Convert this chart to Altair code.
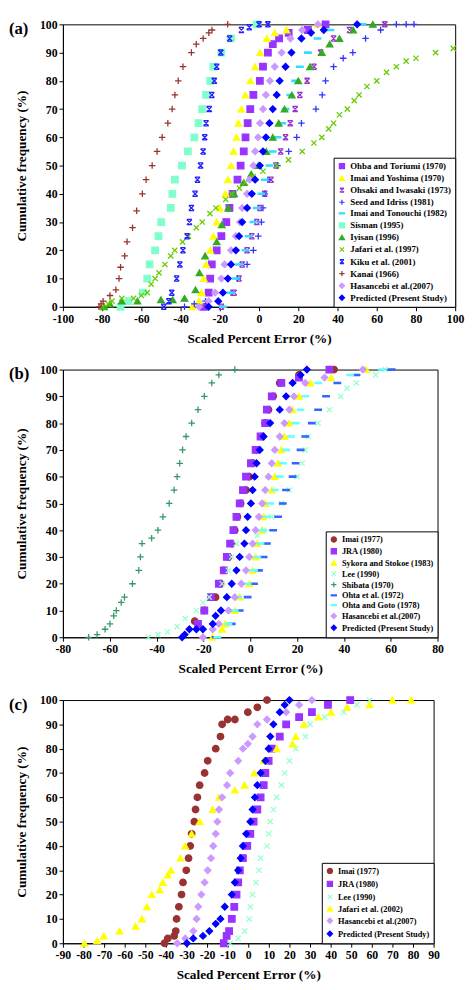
import altair as alt
import pandas as pd

FONT = "Liberation Serif"

# ---------------- shapes ----------------
SQ = "square"
TRI = "triangle-up"
DIA = "diamond"
CIR = "circle"
PLUS = "M-1,0H1M0,-1V1"
XX = "M-0.8,-0.8L0.8,0.8M-0.8,0.8L0.8,-0.8"
HOUR = "M-0.8,-0.8L0.8,0.8M-0.8,0.8L0.8,-0.8M-0.8,-0.8H0.8M-0.8,0.8H0.8"
DASH = "M-1,-0.2H1V0.2H-1Z"

# ---------------- panel (a) ----------------
a_names = ["Ohba and Toriumi (1970)", "Imai and Yoshima (1970)", "Ohsaki and Iwasaki (1973)",
           "Seed and Idriss (1981)", "Imai and Tonouchi (1982)", "Sisman (1995)", "Iyisan (1996)",
           "Jafari et al. (1997)", "Kiku et al. (2001)", "Kanai (1966)", "Hasancebi et al.(2007)",
           "Predicted (Present Study)"]
a_colors = ["#9933FF", "#FFFF00", "#9933CC", "#3333FF", "#33DDFF", "#80FFCC", "#33AA22",
            "#66CC00", "#2222FF", "#993333", "#CC99FF", "#0000FF"]
a_shapes = [SQ, TRI, HOUR, PLUS, DASH, SQ, TRI, XX, HOUR, PLUS, DIA, DIA]

ohba_y = [0, 5, 10, 15, 20, 25, 30, 35, 40, 45, 50, 55, 60, 65, 70, 75, 80, 85, 90, 93, 95, 97, 98, 100]
ohba_x = [-28.2, -25.7, -24.9, -24.1, -21.6, -19.2, -16.7, -15.1, -13.5, -11, -9.4, -7.8, -6.9, -5.8,
          -4.5, -2.9, 0.4, 2, 4.5, 7, 10.2, 15.1, 24.9, 33.9]
yosh_y = [0, 2, 5, 10, 15, 20, 25, 30, 35, 40, 45, 50, 55, 60, 65, 70, 75, 80, 85, 90, 95, 97, 98, 100]
yosh_x = [-33.9, -30.6, -29.3, -28.2, -27, -24.9, -23.3, -21.6, -20, -17.2, -15.9, -14.3, -13, -11.5,
          -10.5, -9, -7, -4.4, -2, 0.5, 4, 8, 14, 30]
ohsa_y = [0, 5, 10, 15, 20, 25, 30, 35, 40, 45, 50, 55, 60, 65, 70, 75, 80, 85, 90, 95, 98, 100]
ohsa_x = [-19.2, -12.7, -10.2, -8.6, -6.1, -3.7, -1.2, 0.4, 2.9, 6.1, 8.6, 11, 13.5, 15.9, 18.4, 20.8,
          24.5, 28, 31.4, 38, 46.1, 64.1]
seed_y = [0, 1, 2, 5, 10, 15, 20, 25, 30, 35, 40, 45, 50, 55, 60, 65, 70, 75, 80, 85, 88, 90, 95, 98,
          100, 100, 100]
seed_x = [-38, -33, -27.3, -14.3, -11, -6.1, -2.9, -0.4, 1.2, 2, 2.9, 4.5, 9.4, 15.1, 19.2, 21.6, 29,
          32.2, 33.9, 38, 42.9, 47.8, 54.3, 62, 70, 75, 79]
tono_y = [0, 5, 10, 15, 20, 25, 30, 35, 40, 45, 50, 55, 60, 65, 70, 75, 80, 85, 90, 95, 98, 100]
tono_x = [-18.4, -14.3, -11.8, -10.2, -6.9, -5.3, -2.9, -1.2, 1.2, 2.9, 5.3, 7, 9.4, 11.8, 13.5, 15.9,
          18.4, 20.8, 24.9, 29.8, 36.3, 52.7]
sism_y = [0, 2, 5, 10, 15, 20, 25, 30, 35, 40, 45, 50, 55, 60, 65, 70, 75, 80, 85, 90, 95, 100]
sism_x = [-70.6, -66.5, -59.2, -57, -55.8, -53, -51.3, -49.9, -45, -44.2, -42.9, -39.3, -36.3, -33,
          -30.9, -29, -27, -24.9, -23.3, -19.2, -14.3, -1.2]
iyis_y = [0, 1, 2, 2, 2.5, 2.5, 3, 6, 12, 18, 23, 29, 35, 40, 44, 47, 50, 55, 60, 65, 70, 75, 80, 85,
          90, 93, 95, 98, 100]
iyis_x = [-79, -76, -70, -62, -50, -44, -38, -32.4, -30.4, -27.5, -21.6, -19, -15.7, -12.7, -7.8, -4,
          -0.4, 3.7, 7, 10, 13, 16.7, 20, 26, 32, 36, 41, 48, 58]
jaf97_y = [0, 1, 2, 3, 3, 4, 5, 8, 10, 12, 15, 18, 20, 23, 25, 28, 30, 33, 35, 38, 40, 42, 44, 46, 48,
           50, 52, 55, 58, 60, 63, 65, 68, 70, 73, 75, 78, 80, 83, 85, 87, 88, 90, 91.5]
jaf97_x = [-80, -77, -75, -70, -64, -60, -57, -55, -53, -51, -48, -45, -43, -39, -36, -32, -29, -25,
           -22, -17, -14, -10, -7, -3, 2, 9, 15, 22, 28, 32, 35.5, 38, 41, 45, 48.5, 51, 55, 60, 65,
           70, 75, 80, 90, 99]
kiku_y = [0, 2, 5, 10, 15, 20, 25, 30, 35, 40, 45, 50, 55, 60, 65, 70, 75, 80, 85, 90, 95, 98, 99, 100,
          100]
kiku_x = [-48.6, -46, -44.5, -42, -40.4, -38.8, -36.7, -35.5, -34.5, -32.6, -31.4, -29.8, -28.5, -27.7,
          -27, -25.4, -24.1, -22.8, -21.6, -19.5, -15, -9, -5, 0, 4.5]
kana_y = [0, 1, 2, 4, 6, 10, 14, 18, 23, 28, 34, 40, 45, 50, 55, 60, 65, 70, 75, 80, 85, 90, 93, 95,
          97, 98, 100]
kana_x = [-81.6, -80.5, -79.5, -76, -73, -71.4, -70.6, -68.5, -67.3, -64.5, -62.4, -59.5, -57.6, -54.5,
          -52, -49.4, -46.5, -44.3, -42.9, -41.2, -38.8, -34.5, -32, -28.5, -25.6, -24, -16]
hasa_y = [0, 2, 5, 10, 15, 20, 25, 30, 35, 40, 45, 50, 55, 60, 65, 70, 75, 80, 85, 90, 95, 98, 100]
hasa_x = [-30.6, -25.7, -22.4, -19.2, -17.6, -14.3, -11.8, -9.7, -8.6, -6.1, -4.8, -2.9, -2, -0.5, 0.5,
          2, 3.5, 5.5, 8, 11.5, 16, 22, 30]
preda_y = [0, 2, 5, 10, 15, 20, 25, 30, 35, 40, 45, 50, 55, 60, 65, 70, 75, 80, 85, 90, 95, 97, 98, 100]
preda_x = [-25.7, -20.8, -18.4, -15.9, -14.3, -11.8, -10.2, -8.6, -6.1, -3.7, -2, 0.4, 2, 3.5, 5.3, 7,
           9, 10.5, 13.5, 16.5, 21.6, 26.5, 33, 50]

a_series = [(ohba_x, ohba_y), (yosh_x, yosh_y), (ohsa_x, ohsa_y), (seed_x, seed_y), (tono_x, tono_y),
            (sism_x, sism_y), (iyis_x, iyis_y), (jaf97_x, jaf97_y), (kiku_x, kiku_y), (kana_x, kana_y),
            (hasa_x, hasa_y), (preda_x, preda_y)]

# ---------------- panel (b) ----------------
b_names = ["Imai (1977)", "JRA (1980)", "Sykora and Stokoe (1983)", "Lee (1990)", "Shibata (1970)",
           "Ohta et al. (1972)", "Ohta and Goto (1978)", "Hasancebi et al.(2007)",
           "Predicted (Present Study)"]
b_colors = ["#993333", "#9933FF", "#FFFF00", "#99FFCC", "#339966", "#3366FF", "#66FFFF", "#CC99FF",
            "#0000FF"]
b_shapes = [CIR, SQ, TRI, XX, PLUS, DASH, DASH, DIA, DIA]

imaib_y = [6, 10, 15, 20, 25, 30, 35, 40, 45, 50, 55, 60, 65, 70, 75, 80, 85, 90, 95, 98, 100]
imaib_x = [-23.7, -19.6, -14.8, -12.7, -11.3, -9.3, -7.9, -6.6, -5.5, -4.1, -1.8, -0.4, 1, 2.7, 5.1,
           6.4, 7.8, 9.8, 12.6, 20.8, 35.8]
jrab_y = [5, 10, 15, 20, 25, 30, 35, 40, 45, 50, 55, 60, 65, 70, 75, 80, 85, 90, 95, 97, 100]
jrab_x = [-22.3, -19.6, -16.8, -13.4, -11.3, -10, -8.6, -7.2, -5.9, -4.5, -3.1, -1.8, 0.3, 2.3, 4.4,
          6.4, 7.1, 9.2, 13.3, 20.8, 33.8]
syko_y = [0, 3, 5, 10, 15, 20, 25, 30, 35, 40, 45, 50, 55, 60, 65, 70, 75, 80, 85, 90, 95, 97, 100]
syko_x = [-16.1, -12, -10.7, -6.6, -4.5, -0.4, 1, 2.3, 3, 5.1, 5.7, 6.4, 9.2, 10.5, 11.9, 13.3, 14.6,
          16.7, 18, 20.8, 25.6, 34.5, 49.5]
leeb_y = [0, 1, 2, 4, 7, 10, 13, 15, 20, 25, 30, 35, 38, 40, 45, 50, 55, 60, 65, 70, 75, 80, 85, 90,
          93, 95, 98, 100]
leeb_x = [-43.5, -39.4, -35.3, -31.2, -27.8, -23, -20.2, -17.5, -12, -9.3, -7.9, -5.9, 3, 5.7, 9.2,
          13.3, 16.7, 20.1, 22.2, 23.5, 24.9, 29, 33.8, 38.6, 41.3, 45.4, 53.6, 57.7]
shib_y = [0, 1, 3, 5, 8, 10, 13, 15, 20, 25, 30, 35, 37, 40, 45, 50, 55, 60, 65, 70, 75, 80, 85, 90,
          95, 98, 100]
shib_x = [-69, -65.4, -62, -59.9, -58.3, -57.2, -55.1, -53.7, -50.3, -47.6, -46.9, -46.2, -42.1, -39.4,
          -37.3, -34.6, -32.5, -31.2, -30.1, -28.9, -27.4, -25, -22.3, -19.6, -16.4, -13.4, -6.6]
ohta_y = [0, 5, 10, 15, 20, 25, 30, 35, 40, 45, 50, 55, 60, 65, 70, 75, 80, 85, 90, 95, 98, 100]
ohta_x = [-14.8, -7.9, -4.5, -1.1, 1.6, 3.7, 5.7, 7.1, 9.8, 11.9, 13.9, 15.3, 18.1, 19.4, 21.5, 23.5,
          26.3, 29, 32.4, 37.2, 45.4, 60.4]
goto_y = [0, 5, 10, 15, 20, 25, 30, 35, 40, 45, 50, 55, 60, 65, 70, 75, 80, 85, 90, 95, 98, 100]
goto_x = [-14, -9.3, -6.6, -5.2, -1.1, 1.6, 3, 4.4, 5.7, 7.1, 8.5, 10.5, 12.6, 14, 15.3, 17.4, 19.4,
          21.5, 23.5, 29, 42.7, 56.3]
hasb_y = [0, 3, 5, 10, 15, 20, 25, 30, 35, 40, 45, 50, 55, 60, 65, 70, 75, 80, 85, 90, 95, 97, 100]
hasb_x = [-20.2, -16, -13.4, -9.3, -6.6, -3.8, -1.8, -0.4, 1, 2.3, 3.7, 5.1, 6.4, 7.8, 9.2, 10.5, 12.6,
          14.6, 16.7, 18.7, 23.5, 31.7, 48.1]
predb_y = [0, 1, 3, 3, 3, 5, 8, 10, 15, 20, 25, 30, 35, 40, 45, 50, 55, 60, 65, 70, 75, 80, 85, 90,
           95, 98, 100]
predb_x = [-29.1, -28, -26, -23, -20.2, -16, -14.8, -12.5, -10, -7.9, -5.9, -4.5, -2.5, -1.8, -1.1,
           0.3, 1, 1.9, 2.7, 4.1, 5.7, 8.5, 12.6, 15.3, 18.1, 21.5, 24.2]

b_series = [(imaib_x, imaib_y), (jrab_x, jrab_y), (syko_x, syko_y), (leeb_x, leeb_y), (shib_x, shib_y),
            (ohta_x, ohta_y), (goto_x, goto_y), (hasb_x, hasb_y), (predb_x, predb_y)]

# ---------------- panel (c) ----------------
c_names = ["Imai (1977)", "JRA (1980)", "Lee (1990)", "Jafari et al. (2002)", "Hasancebi et al.(2007)",
           "Predicted (Present Study)"]
c_colors = ["#993333", "#9933FF", "#99FFCC", "#FFFF00", "#CC99FF", "#0000FF"]
c_shapes = [CIR, SQ, XX, TRI, DIA, DIA]

imaic_y = [0, 2, 3, 5, 10, 15, 20, 25, 30, 35, 40, 45, 50, 55, 60, 65, 70, 75, 80, 85, 90, 92, 92, 95,
           97, 100]
imaic_x = [-40.7, -39.1, -36, -35.2, -34.8, -33.7, -32.4, -31.7, -30.1, -29, -28.2, -27.5, -26.2,
           -25.6, -24.7, -23.6, -21.2, -19.7, -15.8, -13.5, -12.7, -10, -6.5, -0.2, 4.4, 9.1]
jrac_y = [0, 3, 5, 10, 15, 20, 25, 30, 35, 40, 45, 50, 55, 60, 65, 70, 75, 80, 85, 90, 93, 95, 98, 100]
jrac_x = [-11.9, -10.5, -9.3, -8, -6.8, -5.7, -4.9, -4.1, -2.6, -0.5, 1, 2.6, 4.4, 6, 7.5, 8.3, 9.9,
          11.4, 15.3, 18.4, 24.7, 30.9, 38.7, 49.5]
leec_y = [0, 2, 5, 10, 15, 20, 25, 30, 35, 40, 45, 50, 55, 60, 65, 70, 75, 80, 85, 90, 93, 95, 98, 100]
leec_x = [-8.8, -4.9, -1.8, 0.5, 1, 2.1, 3.7, 5.2, 6, 9.1, 9.9, 10.7, 12.2, 13.8, 16.1, 17.7, 20, 23.1,
          27.8, 30.1, 37.1, 46.4, 52.7, 58.9]
jafc_y = [0, 1, 3, 5, 7, 10, 15, 20, 22, 25, 28, 30, 35, 40, 45, 50, 55, 60, 63, 65, 70, 75, 80, 82, 85,
          90, 93, 95, 97, 98, 100, 100]
jafc_x = [-79.6, -73.4, -70.2, -62.5, -54.7, -51.6, -49.2, -46.9, -43, -41.5, -39.1, -37.6, -32.9,
          -30.6, -27.5, -23.6, -17.3, -14.2, -6.5, -1.8, 2.9, 7.5, 13.8, 21.5, 23.1, 27, 34, 40.2, 48,
          58.9, 70, 79.1]
hasc_y = [0, 2, 5, 10, 15, 20, 25, 30, 35, 40, 45, 50, 55, 60, 65, 70, 75, 80, 82, 85, 90, 92, 95, 98,
          100]
hasc_x = [-34.5, -30.6, -26.7, -25.1, -24.3, -22.8, -21.2, -19.7, -18.1, -17, -15.8, -15, -14.2, -12.7,
          -10.3, -8.8, -4.9, -2.6, -0.2, 2.1, 4.4, 9.1, 18.4, 24.7, 30.9]
predc_y = [0, 2, 3, 5, 8, 10, 15, 20, 25, 30, 35, 40, 45, 50, 55, 60, 65, 70, 75, 80, 85, 90, 95, 98,
           100]
predc_x = [-29.8, -26.7, -22, -18.9, -15.8, -13.5, -11.4, -8, -6.5, -4.9, -3.7, -2.6, -1, 1, 2.1, 3.2,
           4.4, 6, 8.3, 9.9, 10.7, 12.2, 15.3, 17.7, 20]

c_series = [(imaic_x, imaic_y), (jrac_x, jrac_y), (leec_x, leec_y), (jafc_x, jafc_y), (hasc_x, hasc_y),
            (predc_x, predc_y)]


def frame(names, series):
    rows = []
    for name, (xs, ys) in zip(names, series):
        for x, y in zip(xs, ys):
            rows.append({"series": name, "x": x, "y": y})
    return pd.DataFrame(rows)


def panel(tag, names, colors, shapes, series, xmin, xmax, xstep, w, h, leg_font, leg_row):
    df = frame(names, series)
    leg = alt.Legend(title=None, orient="bottom-right", offset=0, padding=4,
                     strokeColor="black", fillColor="white", labelFont=FONT,
                     labelFontWeight="bold", labelFontSize=leg_font, labelColor="black",
                     symbolSize=28, symbolStrokeWidth=1.2, rowPadding=leg_row, labelOffset=4,
                     labelLimit=300)
    xvals = list(range(xmin, xmax + 1, xstep))
    pts = alt.Chart(df).mark_point(filled=True, size=44, opacity=1, strokeWidth=1.3).encode(
        x=alt.X("x:Q", scale=alt.Scale(domain=[xmin, xmax], nice=False),
                axis=alt.Axis(values=xvals, labelExpr="'' + datum.value", labelOverlap=False,
                              labelFlush=False, labelPadding=3,
                              title="Scaled Percent Error (%)", titlePadding=7)),
        y=alt.Y("y:Q", scale=alt.Scale(domain=[0, 100], nice=False),
                axis=alt.Axis(values=list(range(0, 101, 10)), title="Cumulative frequency (%)",
                              titlePadding=11, labelFlush=False)),
        color=alt.Color("series:N", scale=alt.Scale(domain=names, range=colors), legend=leg),
        stroke=alt.Stroke("series:N", scale=alt.Scale(domain=names, range=colors), legend=leg),
        shape=alt.Shape("series:N", scale=alt.Scale(domain=names, range=shapes), legend=leg),
    )
    lab = alt.Chart(pd.DataFrame({"t": [tag]})).mark_text(
        font=FONT, fontWeight="bold", fontSize=17, align="left", baseline="middle", color="black"
    ).encode(text="t:N", x=alt.value(-55), y=alt.value(5))
    return alt.layer(pts, lab).properties(width=w, height=h)


pa = panel("(a)", a_names, a_colors, a_shapes, a_series, -100, 100, 20, 400, 288, 9, 1.3)
pb = panel("(b)", b_names, b_colors, b_shapes, b_series, -80, 80, 20, 382, 273, 8.5, 1.0)
pc = panel("(c)", c_names, c_colors, c_shapes, c_series, -90, 90, 10, 378, 248, 8.5, 2.2)

chart = alt.vconcat(pa, pb, pc, spacing=18).resolve_scale(
    x="independent", y="independent", color="independent", stroke="independent",
    shape="independent"
).resolve_legend(
    color="independent", stroke="independent", shape="independent"
).properties(padding=0).configure_view(
    stroke="black", strokeWidth=1
).configure_axis(
    grid=False, domainColor="black", tickColor="black", tickSize=4, labelFont=FONT,
    labelFontWeight="bold", labelFontSize=12, labelColor="black", titleFont=FONT,
    titleFontWeight="bold", titleFontSize=13.5, titleColor="black", labelPadding=2
)

chart.save("out.html", embed_options={"renderer": "svg", "actions": False})
